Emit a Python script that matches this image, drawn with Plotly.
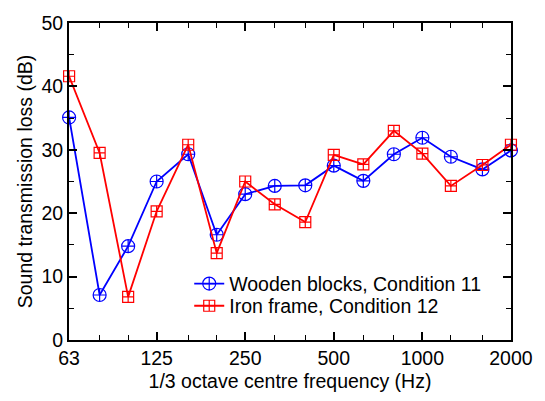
import math
import plotly.graph_objects as go

freqs = [63, 80, 100, 125, 160, 200, 250, 315, 400, 500, 630, 800, 1000, 1250, 1600, 2000]
wooden = [35.1, 7.1, 14.8, 25.0, 29.3, 16.6, 23.0, 24.3, 24.4, 27.5, 25.1, 29.3, 31.9, 28.9, 26.9, 29.9]
iron = [41.6, 29.5, 6.8, 20.3, 30.8, 13.7, 25.0, 21.4, 18.6, 29.2, 27.7, 33.0, 29.4, 24.3, 27.6, 30.8]
xtick_vals = [63, 125, 250, 500, 1000, 2000]
xtick_text = ["63", "125", "250", "500", "1000", "2000"]
ytick_vals = [0, 10, 20, 30, 40, 50]

fig = go.Figure()
fig.add_trace(go.Scatter(
    x=freqs, y=wooden, mode="lines+markers", name="Wooden blocks, Condition 11",
    line=dict(color="#0000ff", width=1.8),
    marker=dict(symbol="circle-cross-open", size=13, color="#0000ff", line=dict(width=1.2)),
    cliponaxis=False, legend="legend",
))
fig.add_trace(go.Scatter(
    x=freqs, y=iron, mode="lines+markers", name="Iron frame, Condition 12",
    line=dict(color="#ff0000", width=1.8),
    marker=dict(symbol="square-cross-open", size=11, color="#ff0000", line=dict(width=1.2)),
    cliponaxis=False, legend="legend2",
))

font = "Liberation Sans, Arial, sans-serif"
fs = 19.5
leg_common = dict(xanchor="left", yanchor="middle", bgcolor="rgba(0,0,0,0)",
                  font=dict(size=fs), itemwidth=30)
fig.update_layout(
    width=545, height=401,
    margin=dict(l=69, r=30, t=15, b=58),
    paper_bgcolor="white", plot_bgcolor="white",
    font=dict(family=font, size=fs, color="black"),
    showlegend=True,
    legend=dict(x=0.272, y=0.177, **leg_common),
    legend2=dict(x=0.272, y=0.107, **leg_common),
    xaxis=dict(
        type="log", range=[math.log10(62.95), math.log10(2001)],
        tickvals=xtick_vals, ticktext=xtick_text,
        ticks="inside", ticklen=8, tickwidth=1.5, tickcolor="black",
        showline=True, linecolor="black", linewidth=2, mirror="allticks",
        showgrid=False, zeroline=False,
        minor=dict(tickvals=freqs, ticks="inside", ticklen=5, tickwidth=1.2, tickcolor="black", showgrid=False),
        title=dict(text="1/3 octave centre frequency (Hz)", standoff=6, font=dict(size=fs)),
        tickfont=dict(size=fs),
    ),
    yaxis=dict(
        range=[0, 50], tickvals=ytick_vals,
        ticks="inside", ticklen=8, tickwidth=1.5, tickcolor="black",
        showline=True, linecolor="black", linewidth=2, mirror="allticks",
        showgrid=False, zeroline=False,
        minor=dict(dtick=5, ticks="inside", ticklen=5, tickwidth=1.2, tickcolor="black", showgrid=False),
        title=dict(text="Sound transmission loss (dB)", standoff=4, font=dict(size=fs)),
        tickfont=dict(size=fs),
    ),
)
fig.write_html("out.html")
